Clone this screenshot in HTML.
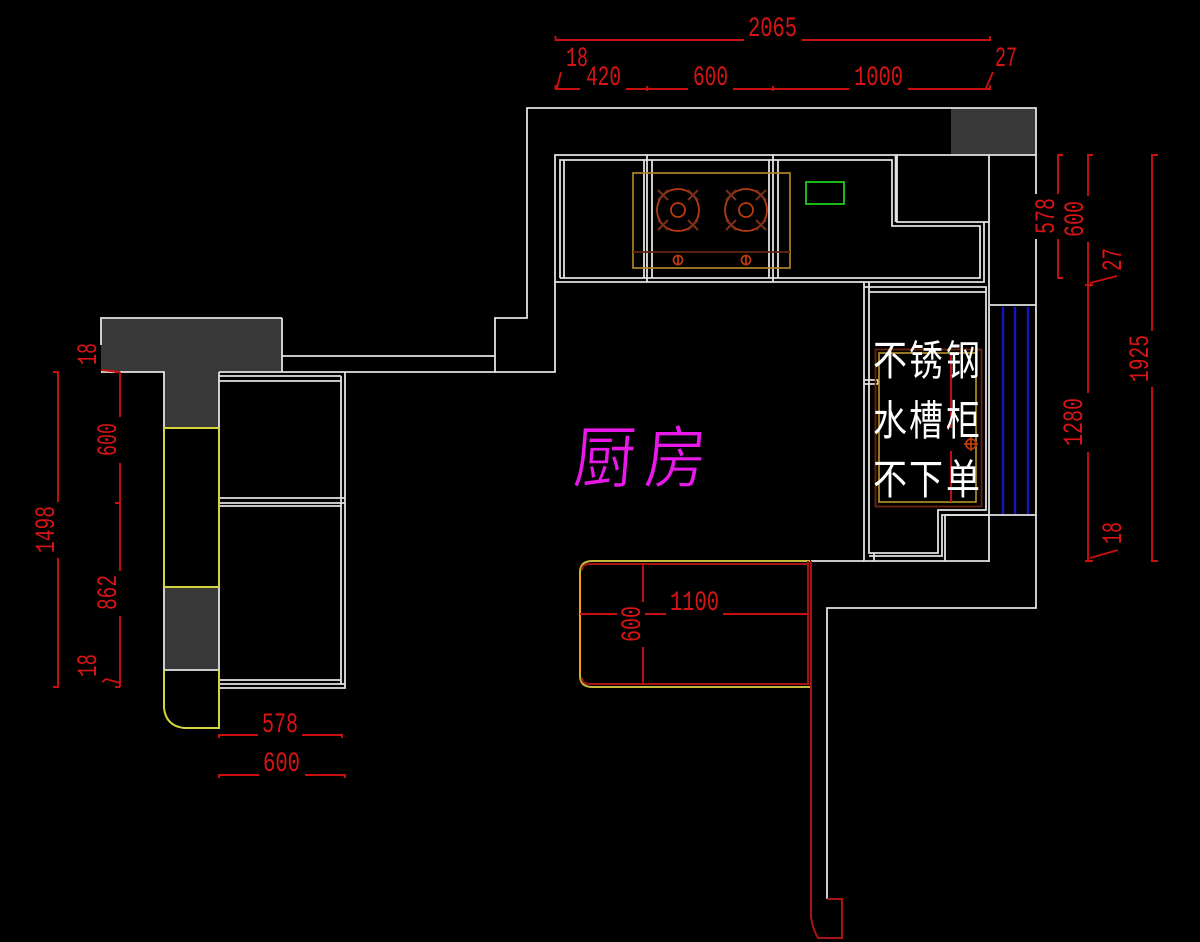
<!DOCTYPE html>
<html lang="zh">
<head>
<meta charset="utf-8">
<title>厨房</title>
<style>
html,body{margin:0;padding:0;background:#000;width:1200px;height:942px;overflow:hidden}
svg{display:block}
.w{fill:none;stroke:#e2e2e2;stroke-width:1.8}
.y{fill:none;stroke:#d4d43c;stroke-width:2}
.r{fill:none;stroke:#c81010;stroke-width:1.9}
.d{fill:none;stroke:#a81414;stroke-width:2}
.b{fill:none;stroke:#b83a10;stroke-width:1.8}
text.n{font-family:"Liberation Mono",monospace;font-size:28px;fill:#d81414}
text.c{font-family:"Liberation Sans","Noto Sans CJK SC",sans-serif;font-size:34px;fill:#fff}
text.t{font-family:"Liberation Sans","Noto Sans CJK SC",sans-serif;font-size:62px;fill:#e818e8;stroke:#000;stroke-width:.9}
</style>
</head>
<body>
<svg width="1200" height="942" viewBox="0 0 1200 942" xmlns="http://www.w3.org/2000/svg">
<rect width="1200" height="942" fill="#000"/>

<!-- gray fills -->
<g fill="#383838">
<rect x="951" y="108" width="85" height="47"/>
<path d="M101 318H282V372H219V428H164V372H101Z"/>
<rect x="164" y="587" width="55" height="83"/>
</g>

<!-- walls -->
<path class="w" d="M1036 194V108H527V318H495V372H345"/>
<path class="w" d="M1036 239V608H827V899"/>
<path class="w" d="M282 356H495M555 282V372H495"/>
<path class="w" d="M282 318H101V345M101 372H164V428M219 372H345M164 587V670H219"/>
<path class="w" d="M282 318V372"/>

<!-- top cabinet -->
<path class="w" d="M555 282V155H1036M897 155V222H989M989 155V562"/>
<path class="w" d="M560 278V160H892V226H980V278H560"/>
<path class="w" d="M564 160V278"/>
<path class="w" d="M555 282H984V222"/>
<path class="w" d="M644 160V278M647 155V282M652 160V278M769 160V278M773 155V282M778 160V278"/>
<path class="w" d="M896 155V222" style="stroke-width:2.6"/>

<!-- sink cabinet -->
<path class="w" d="M864 282V561H989M869 282V553H938V510H986V287H864M869 292H986"/>
<path class="w" d="M869 556H942V515H989M945 515V561M864 380H878M864 384H878M878 380V384"/>
<path class="w" d="M990 305H1036M945 515H1036M874 553V561"/>
<path class="w" d="M811 561H864"/>
<g fill="none" stroke="#1414c0" stroke-width="2.400">
<path d="M1003 307V514M1015 307V514M1028 307V514"/>
</g>
<rect x="875.500" y="349.500" width="106" height="157" fill="none" stroke="#6a2410" stroke-width="1.8"/>
<rect x="879" y="353" width="97" height="149" fill="none" stroke="#b8962c" stroke-width="1.6"/>
<path class="r" d="M951 353V428M951 451V502"/>
<circle cx="971" cy="444" r="5" class="b"/>
<path class="b" d="M964 444H978M971 437V451"/>

<!-- cooktop -->
<rect x="633" y="173" width="157" height="95" fill="none" stroke="#b08428" stroke-width="1.7"/>
<path d="M633 252H790" fill="none" stroke="#6a2410" stroke-width="1.8"/>
<circle cx="678" cy="210" r="21" class="b"/>
<circle cx="678" cy="210" r="7" class="b"/>
<circle cx="746" cy="210" r="21" class="b"/>
<circle cx="746" cy="210" r="7" class="b"/>
<circle cx="678" cy="260" r="4.500" class="b"/>
<circle cx="746" cy="260" r="4.500" class="b"/>
<path class="b" d="M678 255V265M746 255V265"/>
<path d="M658 190L668 200M668 190L658 200M688 190L698 200M698 190L688 200M658 220L668 230M668 220L658 230M688 220L698 230M698 220L688 230M726 190L736 200M736 190L726 200M756 190L766 200M766 190L756 200M726 220L736 230M736 220L726 230M756 220L766 230M766 220L756 230" fill="none" stroke="#7a3018" stroke-width="2"/>
<rect x="806" y="182" width="38" height="22" fill="none" stroke="#1cc01c" stroke-width="1.9"/>

<!-- left cabinet -->
<path class="w" d="M219 372V688H345V372M219 376H341M219 381H341M341 376V684M219 498H345M219 503H345M219 506H341M219 680H341M219 684H345"/>

<!-- yellow columns -->
<path class="y" d="M164 428H219V587H164ZM164 670V708Q166 726 184 728H219V670"/>

<!-- counter -->
<path d="M810 561H592Q580 561 580 573V675Q580 687 592 687H810" fill="none" stroke="#c8bc3c" stroke-width="2"/>
<path d="M580 574V674" fill="none" stroke="#f0a010" stroke-width="2"/>
<path class="d" d="M590 564H808V684H590Q582 684 582 678M582 570Q582 564 590 564"/>
<path class="d" d="M811 561V917Q813 930 818 938H842V899H827"/>
<path class="d" d="M808 561V684"/>
<path class="r" d="M580 614H617M645 614H666M723 614H808M643 564V602M643 647V684"/>

<!-- dimensions top -->
<path class="r" d="M555.500 36V40H744M802 40H990V36"/>
<path class="r" d="M555.500 85V89H580M626 89H688M733 89H849M908 89H990V85M647 86V91M773 86V91"/>
<path class="r" d="M561 72L557 88M993 72L986 88"/>

<!-- dimensions right -->
<path class="r" d="M1063 155H1058V194M1058 239V278H1063"/>
<path class="r" d="M1093 155H1088V196M1088 242V393M1088 452V561"/>
<path class="r" d="M1158 155H1152V331M1152 387V561H1158"/>
<path class="r" d="M1090 283L1117 276M1090 558L1118 550M1085 285H1093M1085 561H1093"/>

<!-- dimensions left -->
<path class="r" d="M53 372H58V502M58 558V687H53"/>
<path class="r" d="M120 372V417M120 463V571M120 616V687M115 503H120M115 687H120M115 372H120"/>
<path class="r" d="M102 370L120 372M102 682L106 679L120 683"/>
<path class="r" d="M219 738V735H258M302 735H342V738"/>
<path class="r" d="M219 778V775H259M305 775H345V778"/>

<!-- number labels -->
<text class="n" x="748" y="36" textLength="49" lengthAdjust="spacingAndGlyphs">2065</text>
<text class="n" x="566" y="66" textLength="22" lengthAdjust="spacingAndGlyphs">18</text>
<text class="n" x="995" y="66" textLength="22" lengthAdjust="spacingAndGlyphs">27</text>
<text class="n" x="586" y="85" textLength="35" lengthAdjust="spacingAndGlyphs">420</text>
<text class="n" x="693" y="85" textLength="35" lengthAdjust="spacingAndGlyphs">600</text>
<text class="n" x="854" y="85" textLength="49" lengthAdjust="spacingAndGlyphs">1000</text>
<text class="n" x="670" y="610" textLength="49" lengthAdjust="spacingAndGlyphs">1100</text>
<text class="n" x="262" y="732" textLength="36" lengthAdjust="spacingAndGlyphs">578</text>
<text class="n" x="263" y="771" textLength="37" lengthAdjust="spacingAndGlyphs">600</text>
<text class="n" transform="translate(1054,234) rotate(-90)" textLength="36" lengthAdjust="spacingAndGlyphs">578</text>
<text class="n" transform="translate(1083,237) rotate(-90)" textLength="36" lengthAdjust="spacingAndGlyphs">600</text>
<text class="n" transform="translate(1121,271) rotate(-90)" textLength="23" lengthAdjust="spacingAndGlyphs">27</text>
<text class="n" transform="translate(1148,382) rotate(-90)" textLength="47" lengthAdjust="spacingAndGlyphs">1925</text>
<text class="n" transform="translate(1082,446) rotate(-90)" textLength="48" lengthAdjust="spacingAndGlyphs">1280</text>
<text class="n" transform="translate(1121,544) rotate(-90)" textLength="22" lengthAdjust="spacingAndGlyphs">18</text>
<text class="n" transform="translate(54,553) rotate(-90)" textLength="47" lengthAdjust="spacingAndGlyphs">1498</text>
<text class="n" transform="translate(116,456) rotate(-90)" textLength="33" lengthAdjust="spacingAndGlyphs">600</text>
<text class="n" transform="translate(116,610) rotate(-90)" textLength="35" lengthAdjust="spacingAndGlyphs">862</text>
<text class="n" transform="translate(96,365) rotate(-90)" textLength="22" lengthAdjust="spacingAndGlyphs">18</text>
<text class="n" transform="translate(96,677) rotate(-90)" textLength="23" lengthAdjust="spacingAndGlyphs">18</text>
<text class="n" transform="translate(640,642) rotate(-90)" textLength="36" lengthAdjust="spacingAndGlyphs">600</text>

<!-- CJK labels -->
<text class="c" transform="translate(873,375) scale(1,1.22)">不</text>
<text class="c" transform="translate(909,375) scale(1,1.22)">锈</text>
<text class="c" transform="translate(946,375) scale(1,1.22)">钢</text>
<text class="c" transform="translate(873,435) scale(1,1.22)">水</text>
<text class="c" transform="translate(909,435) scale(1,1.22)">槽</text>
<text class="c" transform="translate(946,435) scale(1,1.22)">柜</text>
<text class="c" transform="translate(873,494) scale(1,1.22)">不</text>
<text class="c" transform="translate(909,494) scale(1,1.22)">下</text>
<text class="c" transform="translate(946,494) scale(1,1.22)">单</text>
<text class="t" transform="translate(572,482) scale(1,1.1) skewX(-5)">厨</text>
<text class="t" transform="translate(643,482) scale(1,1.1) skewX(-5)">房</text>
</svg>
</body>
</html>
